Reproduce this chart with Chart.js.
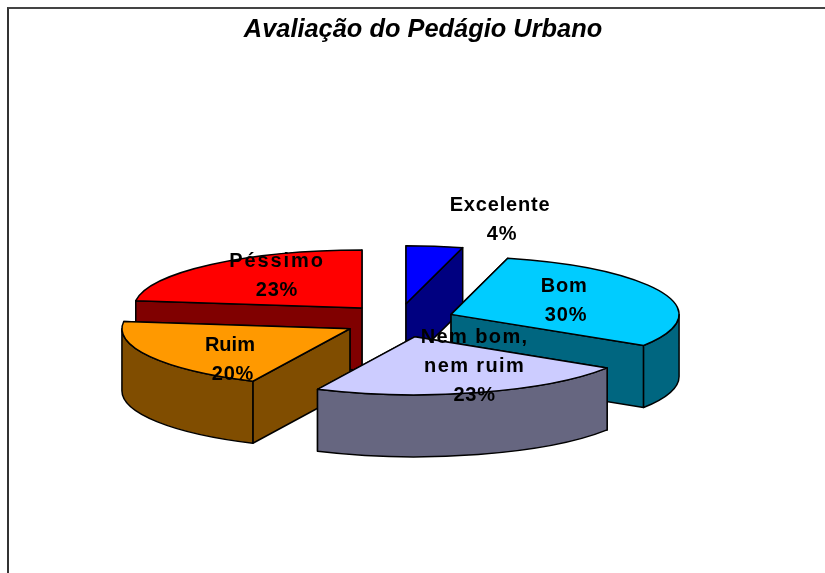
<!DOCTYPE html>
<html lang="pt">
<head>
<meta charset="utf-8">
<title>Avaliação do Pedágio Urbano</title>
<script src="https://cdn.jsdelivr.net/npm/chart.js@4"></script>
<style>
html, body { margin: 0; padding: 0; background: #fff; overflow: hidden; width: 825px; height: 573px; }
#quadro { position: absolute; left: 7px; top: 7px; width: 828px; height: 564px; border-top: 2px solid #444; border-left: 2px solid #333; }
</style>
</head>
<body>
<div id="quadro"><canvas id="grafico"></canvas></div>
<script>
const categorias = ['Excelente', 'Bom', 'Nem bom, nem ruim', 'Ruim', 'Péssimo']
const valores = [4, 30, 23, 20, 23]
const rotulos = [['Excelente'], ['Bom'], ['Nem bom,', 'nem ruim'], ['Ruim'], ['Péssimo']]
const coresTopo = ['#0000FF', '#00CCFF', '#CCCCFF', '#FF9900', '#FF0000']
const coresLado = ['#000080', '#006680', '#666680', '#804D00', '#800000']
const titulo = 'Avaliação do Pedágio Urbano'

// desenho 3D: achatamento da pizza, altura da parede e deslocamento das fatias
const RAIO = 228
const ACHATAMENTO = 0.2544
const ALTURA = 62
const EXPLOSAO_X = 56
const EXPLOSAO_Y = 16.9
const CENTRO_X = 390
const CENTRO_Y = 311.6
const ordemDesenho = [0, 4, 1, 3, 2]
// posição do rótulo em relação ao vértice da fatia: centro x, primeira linha y, ajuste x do %
const ajusteRotulo = [[94, -93, 2], [113, -22, 2], [60, 6, 0], [-120, 22, 3], [-85, -41, 0]]
const espacoLetras = ['0.8px', '0.8px', '1.4px', '0px', '1.9px']
const ALTURA_LINHA = 29

function verticeFatia(arco){
    const meio = (arco.startAngle + arco.endAngle) / 2
    return {
        x: CENTRO_X + Math.cos(meio) * EXPLOSAO_X,
        y: CENTRO_Y + Math.sin(meio) * EXPLOSAO_Y
    }
}

function bordaFatia(v, angulo){
    return {
        x: v.x + Math.cos(angulo) * RAIO,
        y: v.y + Math.sin(angulo) * RAIO * ACHATAMENTO
    }
}

function paredeReta(ctx, v, angulo, cor){
    const p = bordaFatia(v, angulo)
    ctx.beginPath()
    ctx.moveTo(v.x, v.y)
    ctx.lineTo(p.x, p.y)
    ctx.lineTo(p.x, p.y + ALTURA)
    ctx.lineTo(v.x, v.y + ALTURA)
    ctx.closePath()
    ctx.fillStyle = cor
    ctx.fill()
    ctx.stroke()
}

function paredeCurva(ctx, v, inicio, fim, cor){
    const de = Math.max(inicio, 0)
    const ate = Math.min(fim, Math.PI)
    if(ate <= de){
        return
    }
    const ry = RAIO * ACHATAMENTO
    ctx.beginPath()
    ctx.ellipse(v.x, v.y, RAIO, ry, 0, de, ate)
    ctx.ellipse(v.x, v.y + ALTURA, RAIO, ry, 0, ate, de, true)
    ctx.closePath()
    ctx.fillStyle = cor
    ctx.fill()
    ctx.stroke()
}

const pizza3d = {
    id: 'pizza3d',
    beforeDatasetsDraw(chart){
        const ctx = chart.ctx
        const arcos = chart.getDatasetMeta(0).data
        ctx.save()
        ctx.strokeStyle = '#000'
        ctx.lineWidth = 1.5
        ctx.lineJoin = 'round'
        ordemDesenho.forEach(i => {
            const arco = arcos[i]
            const v = verticeFatia(arco)
            const a0 = arco.startAngle
            const a1 = arco.endAngle
            // a parede de trás primeiro, a da frente cobre depois
            const lados = Math.sin(a0) < Math.sin(a1) ? [a0, a1] : [a1, a0]
            lados.forEach(a => paredeReta(ctx, v, a, coresLado[i]))
            paredeCurva(ctx, v, a0, a1, coresLado[i])

            ctx.save()
            ctx.translate(v.x, v.y)
            ctx.scale(1, ACHATAMENTO)
            ctx.translate(-arco.x, -arco.y)
            arco.draw(ctx)
            ctx.restore()

            ctx.beginPath()
            ctx.moveTo(v.x, v.y)
            ctx.ellipse(v.x, v.y, RAIO, RAIO * ACHATAMENTO, 0, a0, a1)
            ctx.closePath()
            ctx.stroke()
        })
        ctx.restore()
        return false
    },
    afterDraw(chart){
        const ctx = chart.ctx
        const arcos = chart.getDatasetMeta(0).data
        ctx.save()
        ctx.font = 'bold 20px "Liberation Sans", Arial, sans-serif'
        ctx.textAlign = 'center'
        ctx.textBaseline = 'alphabetic'
        ctx.fillStyle = '#000'
        rotulos.forEach((linhas, i) => {
            const v = verticeFatia(arcos[i])
            const x = v.x + ajusteRotulo[i][0]
            let y = v.y + ajusteRotulo[i][1]
            ctx.letterSpacing = espacoLetras[i]
            linhas.forEach(linha => {
                ctx.fillText(linha, x, y)
                y += ALTURA_LINHA
            })
            ctx.letterSpacing = '0.8px'
            ctx.fillText(valores[i] + '%', x + ajusteRotulo[i][2], y)
        })
        ctx.restore()
    }
}

new Chart(document.getElementById('grafico'), {
    type: 'pie',
    data: {
        labels: categorias,
        datasets: [{
            data: valores,
            backgroundColor: coresTopo,
            borderWidth: 0
        }]
    },
    plugins: [pizza3d],
    options: {
        responsive: true,
        maintainAspectRatio: false,
        animation: false,
        radius: RAIO,
        plugins: {
            legend: { display: false },
            tooltip: { enabled: false },
            title: {
                display: true,
                text: titulo,
                color: '#000',
                font: { family: '"Liberation Sans", Arial, sans-serif', size: 25.4, weight: 'bold', style: 'italic' },
                padding: { top: 6, bottom: 0 }
            }
        }
    }
})
</script>
</body>
</html>
